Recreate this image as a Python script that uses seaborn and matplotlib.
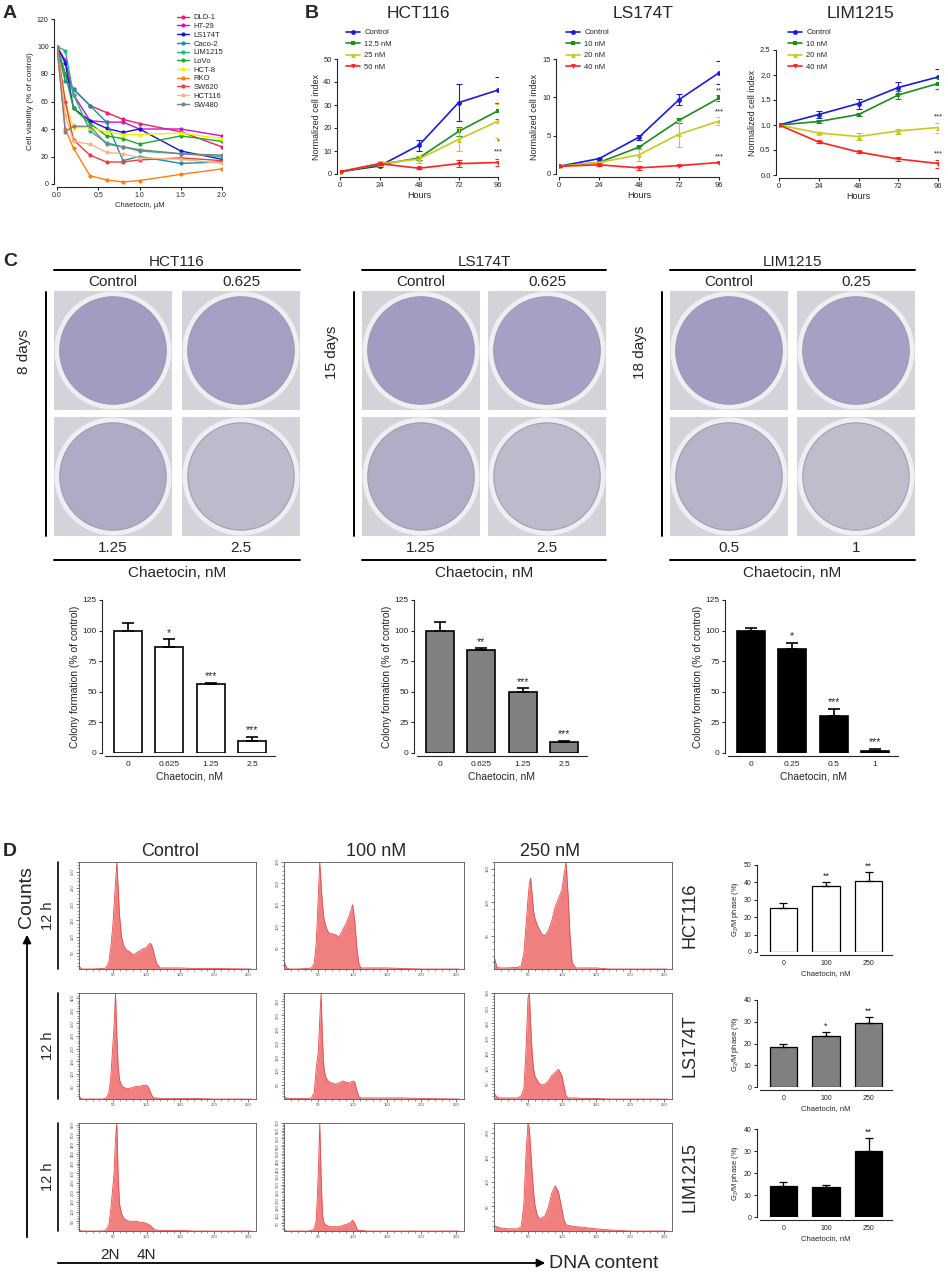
import matplotlib
matplotlib.use('Agg')
import matplotlib.pyplot as plt
import seaborn as sns
import numpy as np
from matplotlib.patches import Circle, Rectangle, FancyArrowPatch
from matplotlib.lines import Line2D
from matplotlib.colors import to_rgb

sns.set_style('ticks')
plt.rcParams['font.family'] = ['Liberation Sans', 'DejaVu Sans']
plt.rcParams['mathtext.default'] = 'regular'
plt.rcParams['axes.linewidth'] = 0.8

# ---------------- data: panel A (viability, % of control)
doses = [0, 0.1, 0.2, 0.4, 0.6, 0.8, 1.0, 1.5, 2.0]
cell_lines = ['DLD-1', 'HT-29', 'LS174T', 'Caco-2', 'LIM1215', 'LoVo',
              'HCT-8', 'RKO', 'SW620', 'HCT116', 'SW480']
line_colors = ['#ee1f6a', '#cc11cc', '#1414e0', '#1c8fa3', '#1fb888', '#22aa22',
               '#f2f200', '#ff7f0e', '#f23c3c', '#f5b482', '#808080']
v_dld1 = [100, 80, 69, 57, 52, 47, 44, 38, 27]
v_ht29 = [100, 90, 65, 46, 45, 45, 40, 40, 35]
v_ls174t = [100, 88, 55, 46, 40.5, 37.5, 40, 24, 18]
v_caco2 = [100, 75, 69, 57, 45, 17, 20, 15, 16]
v_lim1215 = [100, 97, 65, 38.5, 30, 27, 24, 22, 20]
v_lovo = [100, 80, 55, 44, 35, 33, 29, 35, 31]
v_hct8 = [100, 60, 41, 41, 38, 36, 36, 37, 33]
v_rko = [100, 40, 26, 6, 3, 1.5, 2.5, 7, 11]
v_sw620 = [100, 60, 32, 21, 16, 16, 17.5, 19, 17]
v_hct116 = [100, 50, 31, 29, 23, 22, 19, 18, 15]
v_sw480 = [100, 38, 42, 42, 29, 27, 25, 22, 21]
viab_all = [v_dld1, v_ht29, v_ls174t, v_caco2, v_lim1215, v_lovo,
            v_hct8, v_rko, v_sw620, v_hct116, v_sw480]

# ---------------- data: panel B (normalized cell index)
hours = [0, 24, 48, 72, 96]
growth_colors = ['#1a1ae0', '#1e8c1e', '#c9c91e', '#ff2020']
growth_markers = ['o', 's', '^', 'v']
hct_labels = ['Control', '12.5 nM', '25 nM', '50 nM']
hct_vals = [[1, 3.5, 12.5, 31, 36.5], [1, 4, 7, 18.5, 27.5],
            [1, 4.5, 6.5, 15, 23], [1, 4.5, 2.5, 4.5, 5]]
hct_errs = [[0.2, 0.5, 2.5, 8, 5.5], [0.2, 0.5, 1, 1.8, 3.5],
            [0.2, 1.2, 1.5, 5, 7.5], [0.2, 0.5, 0.4, 1.5, 1.5]]
ls_labels = ['Control', '10 nM', '20 nM', '40 nM']
ls_vals = [[1, 2, 4.8, 9.7, 13.2], [1, 1.5, 3.5, 7, 9.9],
           [1, 1.5, 2.5, 5.2, 6.9], [1, 1.2, 0.8, 1.1, 1.5]]
ls_errs = [[0.05, 0.1, 0.3, 0.7, 1.5], [0.05, 0.1, 0.2, 0.3, 0.4],
           [0.05, 0.1, 0.8, 1.7, 0.5], [0.05, 0.1, 0.25, 0.1, 0.1]]
lim_labels = ['Control', '10 nM', '20 nM', '40 nM']
lim_vals = [[1, 1.21, 1.43, 1.75, 1.96], [1, 1.07, 1.21, 1.6, 1.83],
            [1, 0.84, 0.77, 0.88, 0.95], [1, 0.66, 0.46, 0.32, 0.23]]
lim_errs = [[0.01, 0.07, 0.1, 0.12, 0.16], [0.01, 0.03, 0.03, 0.08, 0.1],
            [0.01, 0.02, 0.07, 0.05, 0.1], [0.01, 0.02, 0.02, 0.04, 0.08]]
hct_stars = [('*', 12.5), ('***', 8.0)]
ls_stars = [('**', 10.4), ('***', 7.6), ('***', 1.8)]
lim_stars = [('***', 1.1), ('***', 0.36)]

# ---------------- data: panel C (colony formation, % of control)
col_conc_hct = ['0', '0.625', '1.25', '2.5']
col_hct = [100, 87, 56, 10]
col_hct_err = [6, 6, 1.5, 3]
col_hct_sig = ['', '*', '***', '***']
col_conc_ls = ['0', '0.625', '1.25', '2.5']
col_ls = [100, 84, 50, 9]
col_ls_err = [7, 1.5, 3, 1]
col_ls_sig = ['', '**', '***', '***']
col_conc_lim = ['0', '0.25', '0.5', '1']
col_lim = [100, 85, 30, 2]
col_lim_err = [2.5, 5, 6, 1.5]
col_lim_sig = ['', '*', '***', '***']

# ---------------- data: panel D (DNA histograms, relative counts)
dna_grid = [1, 4, 8, 20, 35, 40, 44, 47, 50, 52, 54, 56, 58, 60, 63, 66, 70, 75, 80,
            85, 90, 95, 100, 103, 106, 109, 112, 115, 120, 130, 150, 170, 200, 255]
h_hct_c = [0.02, 0, 0, 0, 0.005, 0.01, 0.06, 0.2, 0.4, 0.6, 0.8, 1.0, 0.75, 0.5, 0.3, 0.22, 0.18,
           0.16, 0.13, 0.15, 0.17, 0.19, 0.2, 0.23, 0.24, 0.2, 0.12, 0.05, 0.01, 0.01, 0.01, 0.005, 0.005, 0]
h_hct_100 = [0.06, 0.01, 0, 0, 0.005, 0.01, 0.05, 0.25, 0.7, 1.0, 0.8, 0.6, 0.48, 0.42, 0.36, 0.33, 0.33,
             0.32, 0.3, 0.36, 0.42, 0.5, 0.6, 0.45, 0.2, 0.05, 0.01, 0.01, 0.01, 0.01, 0.01, 0.005, 0, 0]
h_hct_250 = [0.1, 0.02, 0.01, 0.01, 0.015, 0.03, 0.15, 0.4, 0.65, 0.8, 0.85, 0.7, 0.55, 0.48, 0.42, 0.38, 0.33,
             0.31, 0.36, 0.45, 0.58, 0.66, 0.74, 0.88, 1.0, 0.7, 0.3, 0.06, 0.01, 0.01, 0.01, 0, 0, 0]
h_ls_c = [0.02, 0, 0, 0, 0, 0.01, 0.05, 0.2, 0.5, 0.7, 1.0, 0.6, 0.3, 0.18, 0.13, 0.11, 0.1,
          0.1, 0.11, 0.12, 0.12, 0.13, 0.13, 0.11, 0.06, 0.02, 0.01, 0.01, 0.005, 0.005, 0.005, 0.005, 0, 0]
h_ls_100 = [0.02, 0.01, 0.005, 0.005, 0.005, 0.01, 0.06, 0.3, 0.45, 0.75, 1.0, 0.55, 0.3, 0.22, 0.18, 0.16, 0.15,
            0.14, 0.15, 0.17, 0.16, 0.15, 0.17, 0.16, 0.08, 0.02, 0.01, 0.01, 0.01, 0.01, 0.01, 0.01, 0.005, 0]
h_ls_250 = [0.05, 0.02, 0.01, 0.01, 0.01, 0.03, 0.1, 0.45, 0.95, 1.0, 0.7, 0.45, 0.3, 0.22, 0.18, 0.15, 0.13,
            0.14, 0.17, 0.22, 0.25, 0.28, 0.22, 0.12, 0.03, 0.01, 0.01, 0.01, 0.01, 0.005, 0.005, 0, 0, 0]
h_lim_c = [0.01, 0, 0, 0, 0, 0.01, 0.05, 0.2, 0.4, 0.55, 0.85, 1.0, 0.5, 0.25, 0.16, 0.12, 0.1,
           0.09, 0.09, 0.09, 0.08, 0.08, 0.07, 0.06, 0.05, 0.03, 0.01, 0.01, 0.005, 0.005, 0.005, 0, 0, 0]
h_lim_100 = [0.01, 0, 0, 0, 0, 0.005, 0.02, 0.1, 0.55, 1.0, 0.5, 0.15, 0.08, 0.06, 0.05, 0.04, 0.04,
             0.04, 0.04, 0.05, 0.06, 0.07, 0.1, 0.07, 0.02, 0.005, 0.005, 0.005, 0, 0, 0, 0, 0, 0]
h_lim_250 = [0.05, 0.04, 0.03, 0.02, 0.02, 0.04, 0.25, 0.7, 1.0, 0.95, 0.75, 0.55, 0.38, 0.25, 0.16, 0.12, 0.12,
             0.14, 0.22, 0.35, 0.42, 0.36, 0.2, 0.1, 0.06, 0.05, 0.05, 0.045, 0.04, 0.035, 0.02, 0.01, 0, 0]
hist_rows = [[h_hct_c, h_hct_100, h_hct_250], [h_ls_c, h_ls_100, h_ls_250], [h_lim_c, h_lim_100, h_lim_250]]
hist_ymax = [[330, 250, 160], [420, 380, 350], [560, 700, 220]]

g2_conc = ['0', '100', '250']
g2_hct = [25.5, 38, 41]
g2_hct_err = [2.5, 2.5, 5]
g2_hct_sig = ['', '**', '**']
g2_ls = [18.5, 23.5, 29.5]
g2_ls_err = [1.2, 1.8, 2.8]
g2_ls_sig = ['', '*', '**']
g2_lim = [14, 13.8, 30]
g2_lim_err = [1.8, 0.8, 6]
g2_lim_sig = ['', '', '**']

# ---------------- figure helpers (pixel layout)
W, H = 948, 1272
fig = plt.figure(figsize=(W / 100, H / 100), dpi=100)


def add_box(l, t, r, b):
    return fig.add_axes([l / W, 1 - b / H, (r - l) / W, (b - t) / H])


def ftext(x, y, s, **kw):
    fig.text(x / W, 1 - y / H, s, **kw)


def fline(x1, y1, x2, y2, lw=1.4):
    fig.add_artist(Line2D([x1 / W, x2 / W], [1 - y1 / H, 1 - y2 / H], color='black', lw=lw))


def prism(ax, fs):
    sns.despine(ax=ax, offset=2)
    ax.tick_params(labelsize=fs, length=2.5, width=0.8, pad=1.5)


# ---------------- panel A
axA = add_box(57, 19, 222, 184)
for name, vals, col in zip(cell_lines, viab_all, line_colors):
    sns.lineplot(x=doses, y=vals, color=col, marker='o', markersize=3, markeredgewidth=0,
                 linewidth=1, label=name, ax=axA)
axA.set_xlim(0, 2)
axA.set_ylim(0, 120)
axA.set_xticks([0, 0.5, 1.0, 1.5, 2.0])
axA.set_xticklabels(['0.0', '0.5', '1.0', '1.5', '2.0'])
axA.set_yticks(range(0, 121, 20))
axA.set_xlabel('Chaetocin, µM', fontsize=5.5, labelpad=2)
axA.set_ylabel('Cell viability (% of control)', fontsize=6, labelpad=2)
prism(axA, 5)
axA.legend(loc='upper left', bbox_to_anchor=(177 / W, 1 - 14 / H), bbox_transform=fig.transFigure,
           frameon=False, fontsize=5.5, handlelength=1.6, handletextpad=0.6, labelspacing=0.18,
           borderaxespad=0, borderpad=0)


# ---------------- panel B
def growth_panel(box, title, title_x, vals_l, errs_l, labels, ylim, yticks, ytl, stars, leg_xy):
    ax = add_box(*box)
    for vals, err, lab, col, mk in zip(vals_l, errs_l, labels, growth_colors, growth_markers):
        sns.lineplot(x=hours, y=vals, color=col, marker=mk, markersize=3.5, markeredgewidth=0,
                     linewidth=1.2, label=lab, ax=ax)
        ax.errorbar(hours, vals, yerr=err, fmt='none', ecolor=col, elinewidth=0.8, capsize=2, capthick=0.8)
    for s, y in stars:
        ax.text(96, y, s, ha='center', va='bottom', fontsize=5.5)
    ax.set_xlim(0, 96)
    ax.set_ylim(*ylim)
    ax.set_xticks(hours)
    ax.set_yticks(yticks)
    ax.set_yticklabels(ytl)
    ax.set_xlabel('Hours', fontsize=6.5, labelpad=1)
    ax.set_ylabel('Normalized cell index', fontsize=6.5, labelpad=2)
    prism(ax, 5.5)
    ftext(title_x, 14, title, ha='center', va='center', fontsize=12.5)
    ax.legend(loc='upper left', bbox_to_anchor=(leg_xy[0] / W, 1 - leg_xy[1] / H),
              bbox_transform=fig.transFigure, frameon=False, fontsize=5.5, handlelength=1.8,
              handletextpad=0.6, labelspacing=0.55, borderaxespad=0, borderpad=0)
    return ax


growth_panel((340, 59, 498, 174), 'HCT116', 418, hct_vals, hct_errs, hct_labels, (0, 50),
             [0, 10, 20, 30, 40, 50], ['0', '10', '20', '30', '40', '50'], hct_stars, (346, 29))
growth_panel((559, 59, 719, 174), 'LS174T', 643, ls_vals, ls_errs, ls_labels, (0, 15),
             [0, 5, 10, 15], ['0', '5', '10', '15'], ls_stars, (566, 29))
growth_panel((779, 50, 938, 175), 'LIM1215', 860, lim_vals, lim_errs, lim_labels, (0, 2.5),
             [0, 0.5, 1.0, 1.5, 2.0, 2.5], ['0.0', '0.5', '1.0', '1.5', '2.0', '2.5'], lim_stars, (788, 29))

# ---------------- panel C: plates (tint follows colony formation value)
base_tint = np.array(to_rgb('#c2bdcc'))
dark_tint = np.array(to_rgb('#6a5bb0'))


def plate(l, t, value):
    ax = add_box(l, t, l + 118, t + 119)
    ax.set_xlim(0, 1)
    ax.set_ylim(0, 1)
    ax.axis('off')
    ax.add_patch(Rectangle((0, 0), 1, 1, color='#d5d3d9'))
    ax.add_patch(Circle((0.5, 0.5), 0.49, color='#efeef2'))
    tint = base_tint + (dark_tint - base_tint) * (value / 100) * 0.35
    ax.add_patch(Circle((0.5, 0.5), 0.45, color=tint))
    ax.add_patch(Circle((0.5, 0.5), 0.45, fill=False, ec='#a19cac', lw=0.6))


def plate_group(x0, x1, title, conc, vals, days, bar_x):
    cx = (x0 + x1 + 118) / 2
    ftext(cx, 262, title, ha='center', va='center', fontsize=11)
    fline(x0, 270, x1 + 118, 270)
    ftext(x0 + 59, 282, 'Control', ha='center', va='center', fontsize=11)
    ftext(x1 + 59, 282, conc[1], ha='center', va='center', fontsize=11)
    plate(x0, 291, vals[0])
    plate(x1, 291, vals[1])
    plate(x0, 417, vals[2])
    plate(x1, 417, vals[3])
    fline(bar_x, 292, bar_x, 536)
    ftext(bar_x - 22, 352, days, ha='center', va='center', rotation=90, fontsize=11)
    ftext(x0 + 59, 548, conc[2], ha='center', va='center', fontsize=11)
    ftext(x1 + 59, 548, conc[3], ha='center', va='center', fontsize=11)
    fline(x0, 560, x1 + 118, 560)
    ftext(cx, 573, 'Chaetocin, nM', ha='center', va='center', fontsize=11)


plate_group(54, 182, 'HCT116', col_conc_hct, col_hct, '8 days', 46)
plate_group(362, 488, 'LS174T', col_conc_ls, col_ls, '15 days', 354)
plate_group(670, 797, 'LIM1215', col_conc_lim, col_lim, '18 days', 662)


# ---------------- bar helper
def bar_panel(box, conc, vals, errs, sig, fill, ylim, yticks, ylabel, fs_tick, fs_lab, cap, lw, width):
    ax = add_box(*box)
    sns.barplot(x=conc, y=vals, order=conc, color=fill, edgecolor='black', linewidth=lw,
                width=width, saturation=1, errorbar=None, ax=ax)
    ax.errorbar(range(len(vals)), vals, yerr=[np.zeros(len(errs)), errs], fmt='none',
                ecolor='black', elinewidth=lw, capsize=cap, capthick=lw)
    top = ylim[1]
    for i, (v, e, s) in enumerate(zip(vals, errs, sig)):
        if s:
            ax.text(i, v + e + top * 0.01, s, ha='center', va='bottom', fontsize=fs_tick + 1.5)
    ax.set_xlim(-0.55, len(vals) - 0.45)
    ax.set_ylim(*ylim)
    ax.set_yticks(yticks)
    ax.set_xlabel('Chaetocin, nM', fontsize=fs_lab, labelpad=2)
    ax.set_ylabel(ylabel, fontsize=fs_lab, labelpad=2)
    prism(ax, fs_tick)
    ax.tick_params(axis='x', length=0, pad=4)
    return ax


col_ylab = 'Colony formation (% of control)'
bar_panel((105, 600, 275, 753), col_conc_hct, col_hct, col_hct_err, col_hct_sig, 'white', (0, 125),
          [0, 25, 50, 75, 100, 125], col_ylab, 6, 7.5, 4, 1.2, 0.67)
bar_panel((417, 600, 587, 753), col_conc_ls, col_ls, col_ls_err, col_ls_sig, '#808080', (0, 125),
          [0, 25, 50, 75, 100, 125], col_ylab, 6, 7.5, 4, 1.2, 0.67)
bar_panel((728, 600, 898, 753), col_conc_lim, col_lim, col_lim_err, col_lim_sig, 'black', (0, 125),
          [0, 25, 50, 75, 100, 125], col_ylab, 6, 7.5, 4, 1.2, 0.67)

# ---------------- panel D: histograms
col_x = [(79, 256), (284, 464), (494, 672)]
row_y = [(862, 969), (993, 1099), (1123, 1231)]
row_names = ['HCT116', 'LS174T', 'LIM1215']
for r, (t, b) in enumerate(row_y):
    for c, (l, rr) in enumerate(col_x):
        ax = add_box(l, t, rr, b)
        ymax = hist_ymax[r][c]
        counts = np.array(hist_rows[r][c]) * ymax
        ax.fill_between(dna_grid, counts, color='#f08080', lw=0)
        ax.plot(dna_grid, counts, color='#e84a4a', lw=0.6)
        ax.set_xlim(0, 262)
        ax.set_ylim(0, ymax)
        ax.set_xticks([50, 100, 150, 200, 250])
        ax.set_xticks(range(10, 260, 10), minor=True)
        ax.set_yticks(range(50, ymax + 1, 50))
        ax.set_yticks(range(10, ymax + 1, 10), minor=True)
        ax.tick_params(labelsize=3, length=2, width=0.5, pad=1, colors='#444444')
        ax.tick_params(which='minor', length=1.2, width=0.4, colors='#444444')
        for lab in ax.get_yticklabels():
            lab.set_rotation(90)
            lab.set_va('center')
        for sp in ax.spines.values():
            sp.set_color('#555555')
            sp.set_linewidth(0.6)
    ftext(48, (t + b) / 2, '12 h', ha='center', va='center', rotation=90, fontsize=10.5)
    fline(58, t, 58, b, lw=1.2)
    ftext(690, (t + b) / 2, row_names[r], ha='center', va='center', rotation=90, fontsize=13)

ftext(170, 851, 'Control', ha='center', va='center', fontsize=13)
ftext(376, 851, '100 nM', ha='center', va='center', fontsize=13)
ftext(550, 851, '250 nM', ha='center', va='center', fontsize=13)
ftext(27, 897, 'Counts', ha='center', va='center', rotation=90, fontsize=14)
fig.add_artist(FancyArrowPatch((27 / W, 1 - 1240 / H), (27 / W, 1 - 932 / H), transform=fig.transFigure,
                               arrowstyle='-|>', mutation_scale=12, color='black', lw=1.3))
fig.add_artist(FancyArrowPatch((55 / W, 1 - 1263 / H), (548 / W, 1 - 1263 / H), transform=fig.transFigure,
                               arrowstyle='-|>', mutation_scale=12, color='black', lw=1.3))
ftext(549, 1263, 'DNA content', ha='left', va='center', fontsize=14)
ftext(110, 1255, '2N', ha='center', va='center', fontsize=11)
ftext(146, 1255, '4N', ha='center', va='center', fontsize=11)

g2_ylab = 'G$_2$/M phase (%)'
bar_panel((760, 865, 892, 952), g2_conc, g2_hct, g2_hct_err, g2_hct_sig, 'white', (0, 50),
          [0, 10, 20, 30, 40, 50], g2_ylab, 5, 5.5, 3, 0.9, 0.65)
bar_panel((760, 1000, 892, 1087), g2_conc, g2_ls, g2_ls_err, g2_ls_sig, '#808080', (0, 40),
          [0, 10, 20, 30, 40], g2_ylab, 5, 5.5, 3, 0.9, 0.65)
bar_panel((760, 1129, 892, 1217), g2_conc, g2_lim, g2_lim_err, g2_lim_sig, 'black', (0, 40),
          [0, 10, 20, 30, 40], g2_ylab, 5, 5.5, 3, 0.9, 0.65)

# panel letters
for letter, x, y in [('A', 10, 14), ('B', 312, 14), ('C', 10, 262), ('D', 10, 851)]:
    ftext(x, y, letter, ha='center', va='center', fontsize=14, fontweight='bold')

fig.savefig('out.png', dpi=100)
